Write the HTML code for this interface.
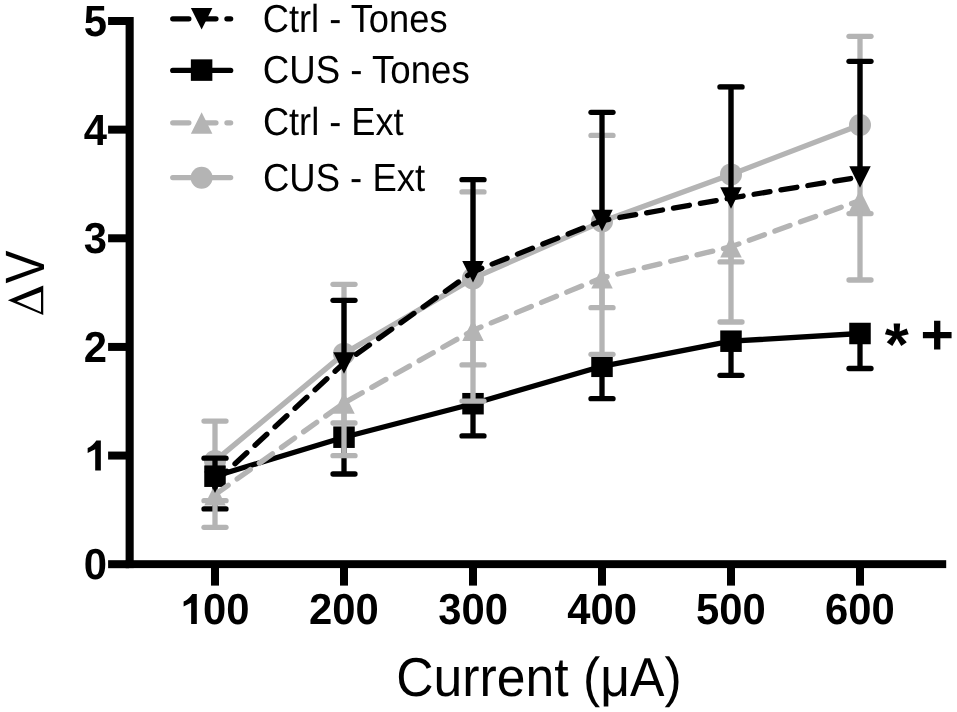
<!DOCTYPE html>
<html><head><meta charset="utf-8"><style>
html,body{margin:0;padding:0;background:#fff;width:957px;height:712px;overflow:hidden}
svg{position:absolute;left:0;top:0;will-change:transform}
text{font-family:"Liberation Sans",sans-serif;fill:#000;text-rendering:geometricPrecision;white-space:pre}
</style></head><body>
<svg width="957" height="712" viewBox="0 0 957 712">
<rect x="125.6" y="17" width="8.1" height="551.1" fill="#000"/>
<rect x="125.6" y="560.2" width="820.6" height="7.9" fill="#000"/>
<rect x="108.1" y="560.2" width="21" height="8" fill="#000"/>
<rect x="108.1" y="451.56" width="21" height="8" fill="#000"/>
<rect x="108.1" y="342.92" width="21" height="8" fill="#000"/>
<rect x="108.1" y="234.28" width="21" height="8" fill="#000"/>
<rect x="108.1" y="125.64" width="21" height="8" fill="#000"/>
<rect x="108.1" y="17" width="21" height="8" fill="#000"/>
<rect x="211" y="564" width="8" height="21.6" fill="#000"/>
<rect x="340" y="564" width="8" height="21.6" fill="#000"/>
<rect x="469" y="564" width="8" height="21.6" fill="#000"/>
<rect x="598" y="564" width="8" height="21.6" fill="#000"/>
<rect x="727" y="564" width="8" height="21.6" fill="#000"/>
<rect x="856" y="564" width="8" height="21.6" fill="#000"/>
<path d="M100.85 440.53V470.43H95.2V449.2L87.66 452.91V447.89Q92 446.72 96.34 440.53ZM196.8 594.07V623.97H191.15V602.74L183.61 606.45V601.43Q187.95 600.26 192.29 594.07Z" fill="#000"/>
<path d="M7.87 300.2L43.26 285.6V315.1ZM16.85 301.35L41 312V292.1Z" fill="#000" fill-rule="evenodd"/>
<path d="M172.75 18.8H230.65" stroke="#000" stroke-width="5.3" stroke-dasharray="16.1 11" stroke-linecap="round"/>
<path d="M190.85 7.9H212.35L201.6 29.4Z" fill="#000"/>
<path d="M172.75 70.4H230.65" stroke="#000" stroke-width="5.3" stroke-linecap="round"/>
<rect x="190.85" y="59.35" width="21.5" height="21.5" fill="#000"/>
<path d="M172.75 122.8H230.65" stroke="#b4b4b4" stroke-width="5.3" stroke-dasharray="16.1 11" stroke-linecap="round"/>
<path d="M190.85 133.8H212.35L201.6 112.3Z" fill="#b4b4b4"/>
<path d="M172.75 177.6H230.65" stroke="#b4b4b4" stroke-width="5.3" stroke-linecap="round"/>
<circle cx="201.6" cy="177.7" r="11" fill="#b4b4b4"/>
<g class="t"><text transform="translate(83.85 579.17) scale(0.9609 1)" font-size="43.50" font-weight="700">0</text>
<text transform="translate(83.85 470.53) scale(0.9609 1)" font-size="43.50" font-weight="700"><tspan fill="transparent">1</tspan></text>
<text transform="translate(83.85 361.89) scale(0.9609 1)" font-size="43.50" font-weight="700">2</text>
<text transform="translate(83.85 253.25) scale(0.9609 1)" font-size="43.50" font-weight="700">3</text>
<text transform="translate(83.85 144.61) scale(0.9609 1)" font-size="43.50" font-weight="700">4</text>
<text transform="translate(83.85 35.97) scale(0.9609 1)" font-size="43.50" font-weight="700">5</text>
<text transform="translate(179.67 623.97) scale(0.9609 1)" font-size="43.50" font-weight="700"><tspan fill="transparent">1</tspan>00</text>
<text transform="translate(308.96 623.97) scale(0.9609 1)" font-size="43.50" font-weight="700">200</text>
<text transform="translate(438.21 623.97) scale(0.9609 1)" font-size="43.50" font-weight="700">300</text>
<text transform="translate(567.37 623.97) scale(0.9609 1)" font-size="43.50" font-weight="700">400</text>
<text transform="translate(696.04 623.97) scale(0.9609 1)" font-size="43.50" font-weight="700">500</text>
<text transform="translate(824.92 623.97) scale(0.9609 1)" font-size="43.50" font-weight="700">600</text>
<text transform="translate(396.28 695.9) scale(0.9430 1)" font-size="54.80">Current (μA)</text>
<text transform="translate(43.5 316.54) rotate(-90) scale(0.8948 1)" font-size="55.42"><tspan fill="transparent">Δ</tspan>V</text>
<text transform="translate(262.76 31.6) scale(0.9281 1)" font-size="39.10">Ctrl - Tones</text>
<text transform="translate(262.74 82.8) scale(0.9373 1)" font-size="39.10">CUS - Tones</text>
<text transform="translate(262.96 135.1) scale(0.9254 1)" font-size="39.10">Ctrl - Ext</text>
<text transform="translate(262.95 190.5) scale(0.9334 1)" font-size="39.10">CUS - Ext</text>
<text transform="translate(884.82 364.8) scale(1.0216 1)" font-size="60.47" font-weight="700">*</text>
<text transform="translate(920.5 353.86) scale(1.0091 1)" font-size="56.71" font-weight="700">+</text></g>
<path d="M215 460.9V421.1" stroke="#b4b4b4" stroke-width="5.3" fill="none"/><path d="M204 421.1H226" stroke="#b4b4b4" stroke-width="5.3" stroke-linecap="round" fill="none"/>
<path d="M215 460.9V500.7" stroke="#b4b4b4" stroke-width="5.3" fill="none"/><path d="M204 500.7H226" stroke="#b4b4b4" stroke-width="5.3" stroke-linecap="round" fill="none"/>
<path d="M344 353.65V284.3" stroke="#b4b4b4" stroke-width="5.3" fill="none"/><path d="M333 284.3H355" stroke="#b4b4b4" stroke-width="5.3" stroke-linecap="round" fill="none"/>
<path d="M344 353.65V423" stroke="#b4b4b4" stroke-width="5.3" fill="none"/><path d="M333 423H355" stroke="#b4b4b4" stroke-width="5.3" stroke-linecap="round" fill="none"/>
<path d="M473 278.4V191.9" stroke="#b4b4b4" stroke-width="5.3" fill="none"/><path d="M462 191.9H484" stroke="#b4b4b4" stroke-width="5.3" stroke-linecap="round" fill="none"/>
<path d="M473 278.4V364.9" stroke="#b4b4b4" stroke-width="5.3" fill="none"/><path d="M462 364.9H484" stroke="#b4b4b4" stroke-width="5.3" stroke-linecap="round" fill="none"/>
<path d="M602 221.55V135.4" stroke="#b4b4b4" stroke-width="5.3" fill="none"/><path d="M591 135.4H613" stroke="#b4b4b4" stroke-width="5.3" stroke-linecap="round" fill="none"/>
<path d="M602 221.55V307.7" stroke="#b4b4b4" stroke-width="5.3" fill="none"/><path d="M591 307.7H613" stroke="#b4b4b4" stroke-width="5.3" stroke-linecap="round" fill="none"/>
<path d="M731 174.4V86.9" stroke="#b4b4b4" stroke-width="5.3" fill="none"/><path d="M720 86.9H742" stroke="#b4b4b4" stroke-width="5.3" stroke-linecap="round" fill="none"/>
<path d="M731 174.4V261.9" stroke="#b4b4b4" stroke-width="5.3" fill="none"/><path d="M720 261.9H742" stroke="#b4b4b4" stroke-width="5.3" stroke-linecap="round" fill="none"/>
<path d="M860 124.95V36.3" stroke="#b4b4b4" stroke-width="5.3" fill="none"/><path d="M849 36.3H871" stroke="#b4b4b4" stroke-width="5.3" stroke-linecap="round" fill="none"/>
<path d="M860 124.95V213.6" stroke="#b4b4b4" stroke-width="5.3" fill="none"/><path d="M849 213.6H871" stroke="#b4b4b4" stroke-width="5.3" stroke-linecap="round" fill="none"/>
<path d="M215 460.9 L344 353.65 L473 278.4 L602 221.55 L731 174.4 L860 124.95" stroke="#b4b4b4" stroke-width="5.3" fill="none" stroke-linejoin="round"/>
<circle cx="215" cy="460.9" r="11" fill="#b4b4b4"/>
<circle cx="344" cy="353.65" r="11" fill="#b4b4b4"/>
<circle cx="473" cy="278.4" r="11" fill="#b4b4b4"/>
<circle cx="602" cy="221.55" r="11" fill="#b4b4b4"/>
<circle cx="731" cy="174.4" r="11" fill="#b4b4b4"/>
<circle cx="860" cy="124.95" r="11" fill="#b4b4b4"/>
<path d="M215 476.2V508.9" stroke="#000" stroke-width="5.3" fill="none"/><path d="M204 508.9H226" stroke="#000" stroke-width="5.3" stroke-linecap="round" fill="none"/>
<path d="M344 437.2V474" stroke="#000" stroke-width="5.3" fill="none"/><path d="M333 474H355" stroke="#000" stroke-width="5.3" stroke-linecap="round" fill="none"/>
<path d="M473 403.7V435.9" stroke="#000" stroke-width="5.3" fill="none"/><path d="M462 435.9H484" stroke="#000" stroke-width="5.3" stroke-linecap="round" fill="none"/>
<path d="M602 366.3V398.7" stroke="#000" stroke-width="5.3" fill="none"/><path d="M591 398.7H613" stroke="#000" stroke-width="5.3" stroke-linecap="round" fill="none"/>
<path d="M731 341.2V375.3" stroke="#000" stroke-width="5.3" fill="none"/><path d="M720 375.3H742" stroke="#000" stroke-width="5.3" stroke-linecap="round" fill="none"/>
<path d="M860 333.5V368.5" stroke="#000" stroke-width="5.3" fill="none"/><path d="M849 368.5H871" stroke="#000" stroke-width="5.3" stroke-linecap="round" fill="none"/>
<path d="M215 476.2 L344 437.2 L473 403.7 L602 366.3 L731 341.2 L860 333.5" stroke="#000" stroke-width="5.3" fill="none" stroke-linejoin="round"/>
<rect x="204.25" y="465.45" width="21.5" height="21.5" fill="#000"/>
<rect x="333.25" y="426.45" width="21.5" height="21.5" fill="#000"/>
<rect x="462.25" y="392.95" width="21.5" height="21.5" fill="#000"/>
<rect x="591.25" y="355.55" width="21.5" height="21.5" fill="#000"/>
<rect x="720.25" y="330.45" width="21.5" height="21.5" fill="#000"/>
<rect x="849.25" y="322.75" width="21.5" height="21.5" fill="#000"/>
<path d="M215 494.7V527.3" stroke="#b4b4b4" stroke-width="5.3" fill="none"/><path d="M204 527.3H226" stroke="#b4b4b4" stroke-width="5.3" stroke-linecap="round" fill="none"/>
<path d="M344 403V455.7" stroke="#b4b4b4" stroke-width="5.3" fill="none"/><path d="M333 455.7H355" stroke="#b4b4b4" stroke-width="5.3" stroke-linecap="round" fill="none"/>
<path d="M473 330.3V401.1" stroke="#b4b4b4" stroke-width="5.3" fill="none"/><path d="M462 401.1H484" stroke="#b4b4b4" stroke-width="5.3" stroke-linecap="round" fill="none"/>
<path d="M602 277.8V354.3" stroke="#b4b4b4" stroke-width="5.3" fill="none"/><path d="M591 354.3H613" stroke="#b4b4b4" stroke-width="5.3" stroke-linecap="round" fill="none"/>
<path d="M731 246.7V322" stroke="#b4b4b4" stroke-width="5.3" fill="none"/><path d="M720 322H742" stroke="#b4b4b4" stroke-width="5.3" stroke-linecap="round" fill="none"/>
<path d="M860 200.5V280" stroke="#b4b4b4" stroke-width="5.3" fill="none"/><path d="M849 280H871" stroke="#b4b4b4" stroke-width="5.3" stroke-linecap="round" fill="none"/>
<path d="M215 494.7 L344 403 L473 330.3 L602 277.8 L731 246.7 L860 200.5" stroke="#b4b4b4" stroke-width="5.3" fill="none" stroke-dasharray="16.12 11.05" stroke-dashoffset="0" stroke-linecap="round"/>
<path d="M204.25 505.45H225.75L215 483.95Z" fill="#b4b4b4"/>
<path d="M333.25 413.75H354.75L344 392.25Z" fill="#b4b4b4"/>
<path d="M462.25 341.05H483.75L473 319.55Z" fill="#b4b4b4"/>
<path d="M591.25 288.55H612.75L602 267.05Z" fill="#b4b4b4"/>
<path d="M720.25 257.45H741.75L731 235.95Z" fill="#b4b4b4"/>
<path d="M849.25 211.25H870.75L860 189.75Z" fill="#b4b4b4"/>
<path d="M215 482.2V458.2" stroke="#000" stroke-width="5.3" fill="none"/><path d="M204 458.2H226" stroke="#000" stroke-width="5.3" stroke-linecap="round" fill="none"/>
<path d="M344 363V300.3" stroke="#000" stroke-width="5.3" fill="none"/><path d="M333 300.3H355" stroke="#000" stroke-width="5.3" stroke-linecap="round" fill="none"/>
<path d="M473 271.7V179.7" stroke="#000" stroke-width="5.3" fill="none"/><path d="M462 179.7H484" stroke="#000" stroke-width="5.3" stroke-linecap="round" fill="none"/>
<path d="M602 220.6V112.3" stroke="#000" stroke-width="5.3" fill="none"/><path d="M591 112.3H613" stroke="#000" stroke-width="5.3" stroke-linecap="round" fill="none"/>
<path d="M731 198V86.9" stroke="#000" stroke-width="5.3" fill="none"/><path d="M720 86.9H742" stroke="#000" stroke-width="5.3" stroke-linecap="round" fill="none"/>
<path d="M860 177V61.3" stroke="#000" stroke-width="5.3" fill="none"/><path d="M849 61.3H871" stroke="#000" stroke-width="5.3" stroke-linecap="round" fill="none"/>
<path d="M215 482.2 L344 363 L473 271.7 L602 220.6 L731 198 L860 177" stroke="#000" stroke-width="5.3" fill="none" stroke-dasharray="16.15 11.1" stroke-dashoffset="0" stroke-linecap="round"/>
<path d="M204.25 471.45H225.75L215 492.95Z" fill="#000"/>
<path d="M333.25 352.25H354.75L344 373.75Z" fill="#000"/>
<path d="M462.25 260.95H483.75L473 282.45Z" fill="#000"/>
<path d="M591.25 209.85H612.75L602 231.35Z" fill="#000"/>
<path d="M720.25 187.25H741.75L731 208.75Z" fill="#000"/>
<path d="M849.25 166.25H870.75L860 187.75Z" fill="#000"/>
</svg>
</body></html>
